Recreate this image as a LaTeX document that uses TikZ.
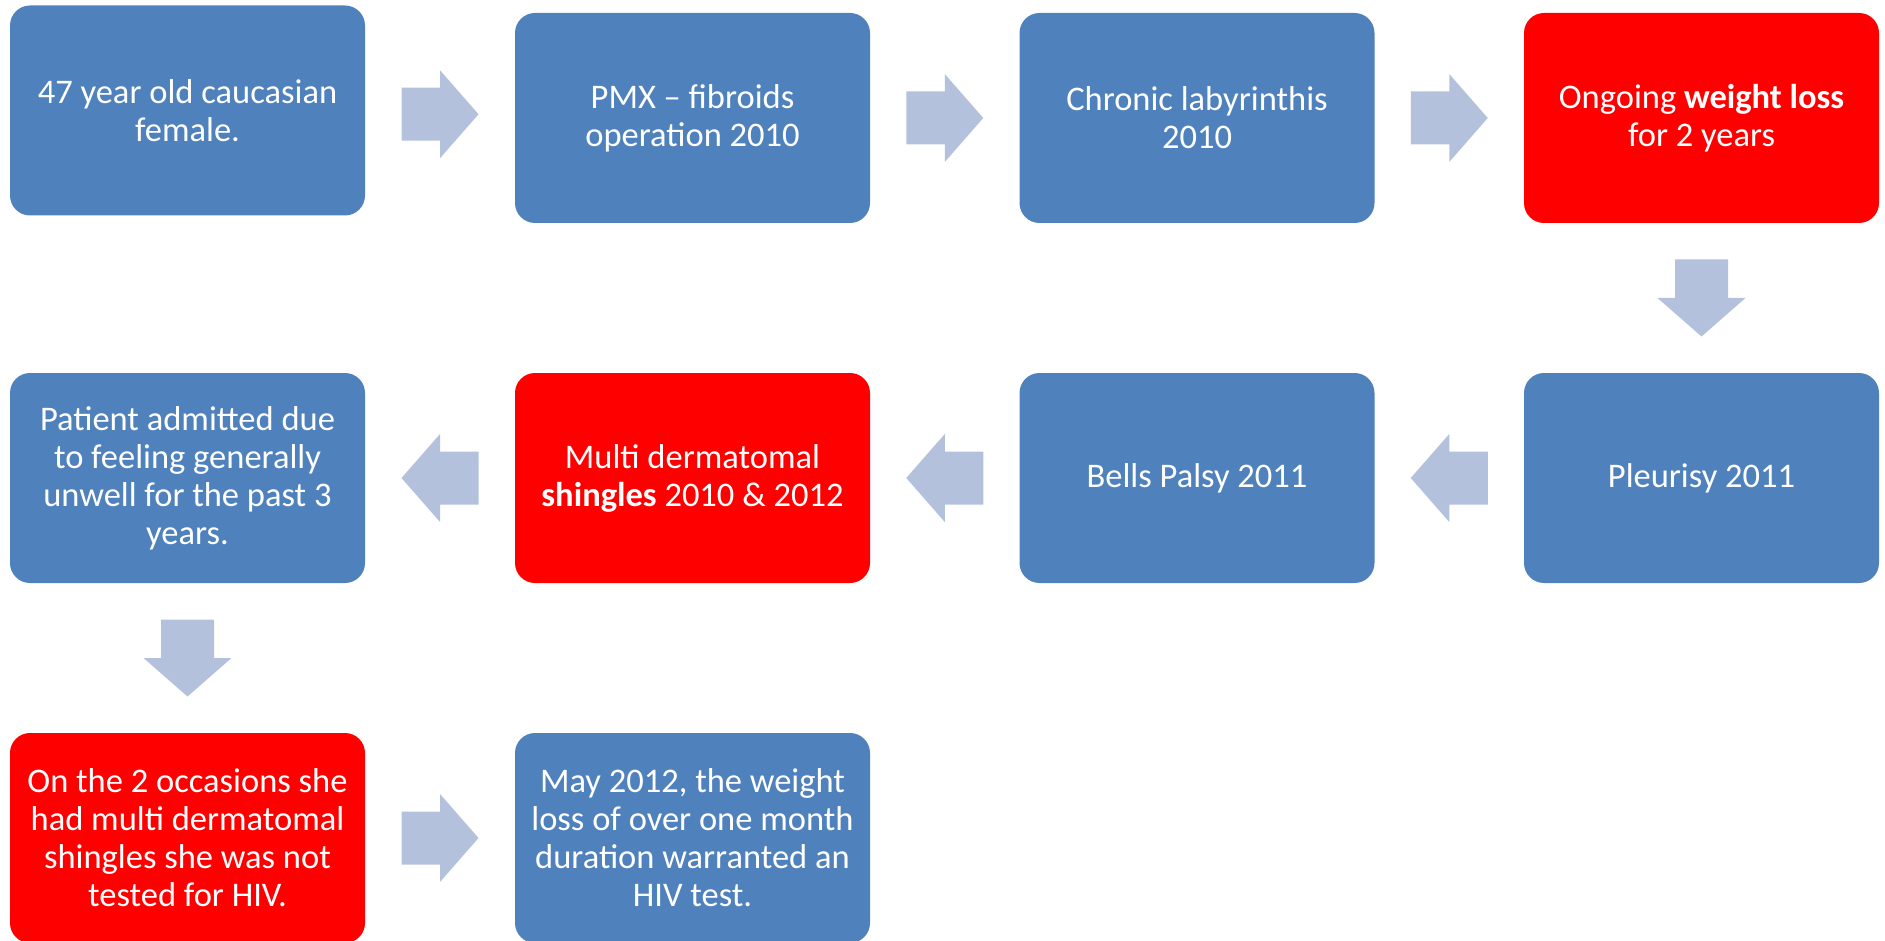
\documentclass[tikz,border=0pt]{standalone}
\usepackage{fontspec}
\setmainfont{Carlito}
\usetikzlibrary{calc}
\definecolor{boxblue}{HTML}{4F81BD}
\definecolor{boxred}{HTML}{FF0000}
\definecolor{arrowfill}{HTML}{B3C1DD}
\tikzset{
 card/.style={rounded corners=20pt, minimum width=355pt, minimum height=210pt, text=white, align=center, font=\fontsize{34.5}{38}\selectfont, inner sep=0pt},
 bluecard/.style={card, fill=boxblue},
 redcard/.style={card, fill=boxred},
 blockarrow/.pic={\fill[arrowfill] (-38.5,-26.5) -- (0,-26.5) -- (0,-44) -- (38.5,0) -- (0,44) -- (0,26.5) -- (-38.5,26.5) -- cycle;}
}
\begin{document}
\begin{tikzpicture}[x=1pt,y=-1pt]
\useasboundingbox (0,0) rectangle (1885,941);
\node[bluecard] (n1) at (187.5,110.5) {47 year old caucasian\\female.};
\node[bluecard] (n2) at (692.5,118) {PMX -- fibroids\\operation 2010};
\node[bluecard] (n3) at (1197,118) {Chronic labyrinthis\\2010};
\node[redcard] (n4) at (1701.5,118) {Ongoing \textbf{weight loss}\\for 2 years};
\node[bluecard] (n5) at (1701.5,478) {Pleurisy 2011};
\node[bluecard] (n6) at (1197,478) {Bells Palsy 2011};
\node[redcard] (n7) at (692.5,478) {Multi dermatomal\\\textbf{shingles} 2010 \& 2012};
\node[bluecard] (n8) at (187.5,478) {Patient admitted due\\to feeling generally\\unwell for the past 3\\years.};
\node[redcard] (n9) at (187.5,838) {On the 2 occasions she\\had multi dermatomal\\shingles she was not\\tested for HIV.};
\node[bluecard] (n10) at (692.5,838) {May 2012, the weight\\loss of over one month\\duration warranted an\\HIV test.};
\pic at ($(n1.east)!0.5!(n2.west)$) {blockarrow};
\pic at ($(n2.east)!0.5!(n3.west)$) {blockarrow};
\pic at ($(n3.east)!0.5!(n4.west)$) {blockarrow};
\pic[rotate=-90] at ($(n4.south)!0.5!(n5.north)$) {blockarrow};
\pic[rotate=180] at ($(n5.west)!0.5!(n6.east)$) {blockarrow};
\pic[rotate=180] at ($(n6.west)!0.5!(n7.east)$) {blockarrow};
\pic[rotate=180] at ($(n7.west)!0.5!(n8.east)$) {blockarrow};
\pic[rotate=-90] at ($(n8.south)!0.5!(n9.north)$) {blockarrow};
\pic at ($(n9.east)!0.5!(n10.west)$) {blockarrow};
\end{tikzpicture}
\end{document}
